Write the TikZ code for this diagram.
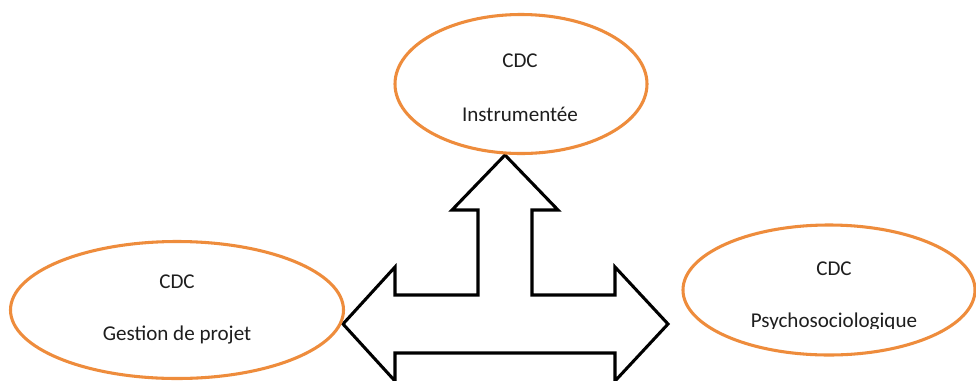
\documentclass[tikz,border=0pt]{standalone}
\usepackage{fontspec}
\setmainfont{Carlito}
\usetikzlibrary{shapes.geometric}
\definecolor{cdcorange}{RGB}{238,140,60}
\definecolor{txtgray}{RGB}{30,30,30}
\tikzset{
  cdcellipse/.style={ellipse, draw=cdcorange, line width=2.3pt, inner sep=0pt},
  cdctext/.style={anchor=base, inner sep=0pt, text=txtgray, font=\fontsize{15.8pt}{18pt}\selectfont},
  bigarrow/.style={draw=black, line width=2.3pt, line join=miter, fill=white}
}
\begin{document}
\begin{tikzpicture}[x=0.75pt, y=-0.75pt]
  \clip (0,0) rectangle (976,380);
  \fill[white] (0,0) rectangle (976,380);

  % three-way block arrow
  \draw[bigarrow] (505,155) -- (558,210) -- (532,210) -- (532,295) -- (615,295)
    -- (615,267) -- (668,324) -- (615,381) -- (615,353) -- (395,353)
    -- (395,381) -- (343,324) -- (395,267) -- (395,295) -- (478,295)
    -- (478,210) -- (452,210) -- cycle;

  % ellipses
  \node[cdcellipse, minimum width=252*0.75pt, minimum height=139*0.75pt] (instr) at (521,84) {};
  \node[cdcellipse, minimum width=333*0.75pt, minimum height=137*0.75pt] (gestion) at (177,310) {};
  \node[cdcellipse, minimum width=292*0.75pt, minimum height=130*0.75pt] (psycho) at (829,290) {};

  % labels
  \node[cdctext] (instrA) at (520,67) {CDC};
  \node[cdctext] (instrB) at (520,121) {Instrumentée};
  \node[cdctext] (gestA) at (177,288) {CDC};
  \node[cdctext] (gestB) at (177,340) {Gestion de projet};
  \node[cdctext] (psyA) at (834,275) {CDC};
  \begin{scope}
    \clip (700,295) rectangle (960,328);
    \node[cdctext] (psyB) at (834,327) {Psychosociologique};
  \end{scope}
\end{tikzpicture}
\end{document}
